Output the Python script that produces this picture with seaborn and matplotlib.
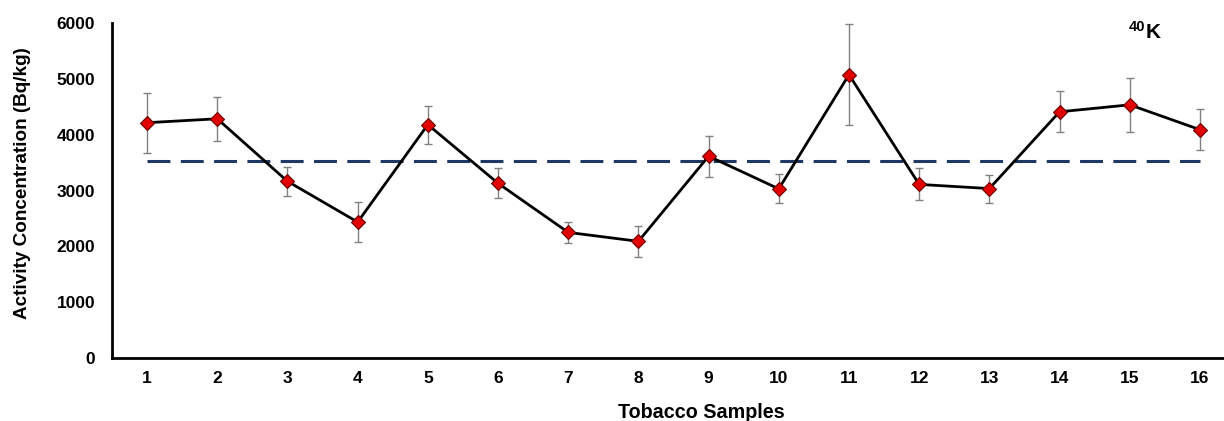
import numpy as np
import pandas as pd
import matplotlib
matplotlib.use("Agg")
import matplotlib.pyplot as plt
import seaborn as sns

samples = list(range(1, 17))
activity = [4215, 4285, 3165, 2435, 4180, 3130, 2250, 2090,
            3615, 3030, 5075, 3110, 3035, 4410, 4535, 4090]
errors = [535, 395, 260, 355, 340, 270, 190, 280,
          365, 260, 910, 285, 250, 365, 480, 370]
mean_level = 3535
ytick_values = [0, 1000, 2000, 3000, 4000, 5000, 6000]

sns.set_theme(style="white")
plt.rcParams['font.family'] = ['Liberation Sans', 'DejaVu Sans']
plt.rcParams['font.weight'] = 'bold'
plt.rcParams['text.color'] = 'black'
plt.rcParams['axes.labelcolor'] = 'black'
plt.rcParams['xtick.color'] = 'black'
plt.rcParams['ytick.color'] = 'black'

df = pd.DataFrame({"Sample": samples, "Activity": activity, "Err": errors})

fig = plt.figure(figsize=(12.24, 4.21), dpi=100)
ax = fig.add_axes([0.0915, 0.1496, 0.9175, 0.7957])

ax.errorbar(df["Sample"], df["Activity"], yerr=df["Err"], fmt='none',
            ecolor='#808080', elinewidth=1.0, capsize=3, capthick=1.0, zorder=2)
ax.plot([samples[0], samples[-1]], [mean_level, mean_level], linestyle=(0, (7.5, 3.4)),
        color='#1f3864', linewidth=2.2, zorder=1)
sns.lineplot(data=df, x="Sample", y="Activity", ax=ax, color='black', linewidth=2,
             marker='D', markersize=7, markerfacecolor='#e00000',
             markeredgecolor='#6a0000', markeredgewidth=0.8, zorder=3)

ax.set_xlim(0.5, 16.5)
ax.set_ylim(0, 6000)
ax.set_xticks(samples)
ax.set_xticklabels([str(s) for s in samples], fontsize=12.5, fontweight='bold')
ax.set_yticks(ytick_values)
ax.set_yticklabels([str(v) for v in ytick_values], fontsize=12.5, fontweight='bold')
ax.tick_params(axis='both', direction='in', length=4, width=1.5, color='black', pad=9)
ax.tick_params(axis='y', pad=12)

for side in ['top', 'right']:
    ax.spines[side].set_visible(False)
for side in ['left', 'bottom']:
    ax.spines[side].set_color('black')
    ax.spines[side].set_linewidth(2)

ax.set_ylabel("Activity Concentration (Bq/kg)", fontsize=13.6, fontweight='bold')
ax.yaxis.set_label_coords(-0.072, 0.522)
ax.set_xlabel("Tobacco Samples", fontsize=14.2, fontweight='bold', va='bottom')
ax.xaxis.set_label_coords(0.525, -0.19)

fig.text(1129 / 1224, 1 - 31 / 421, "40", fontsize=10.5, fontweight='bold',
         ha='left', va='baseline')
fig.text(1146 / 1224, 1 - 38 / 421, "K", fontsize=15, fontweight='bold',
         ha='left', va='baseline')

fig.savefig("out.png", dpi=100)
